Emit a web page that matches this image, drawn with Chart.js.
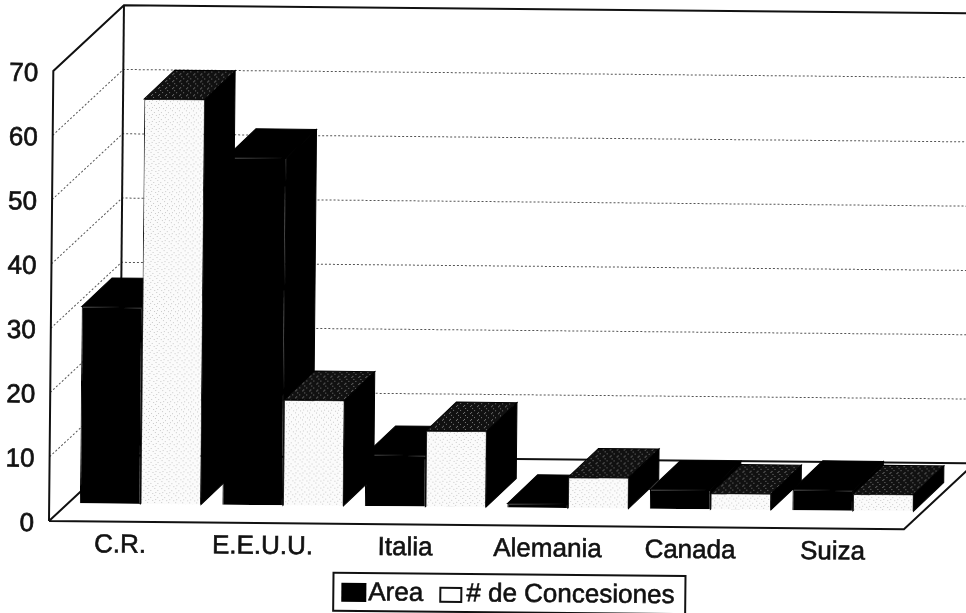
<!DOCTYPE html>
<html>
<head>
<meta charset="utf-8">
<title>Area y Concesiones</title>
<style>
  html, body { margin: 0; padding: 0; background: #fff; overflow: hidden; }
  #wrap { width: 966px; height: 613px; }
</style>
<script src="https://cdn.jsdelivr.net/npm/chart.js@4"></script>
</head>
<body>
<div id="wrap"><canvas id="chart" width="966" height="613"></canvas></div>
<script>
  const categories = ['C.R.', 'E.E.U.U.', 'Italia', 'Alemania', 'Canada', 'Suiza'];
  const areaValues = [30.6, 54, 8, 0.6, 3, 3.2];
  const concesionesValues = [63, 16.4, 11.8, 4.8, 2.5, 2.6];
  const seriesNames = ['Area', '# de Concesiones'];

  const FONT = '"Liberation Sans", Arial, sans-serif';
  const TILT = 0.0096; // the scan sits slightly crooked
  const PIVOT = { x: 49, y: 521 };
  const WALL = { dx: 70, dy: -66.5 };
  const BAR_SHIFT = { dx: 20, dy: -18 };
  const BAR_DEPTH = { dx: 30, dy: -29 };

  const stipple = (base, dot, spots) => {
    const tile = document.createElement('canvas');
    tile.width = 7;
    tile.height = 7;
    const c = tile.getContext('2d');
    c.fillStyle = base;
    c.fillRect(0, 0, 7, 7);
    c.fillStyle = dot;
    spots.forEach(([x, y]) => c.fillRect(x, y, 1, 1));
    return c.createPattern(tile, 'repeat');
  };

  const frontFill = stipple('#fbfbfb', '#c9c9c9', [[1, 1], [4, 3], [2, 5], [6, 6]]);
  const topFill = stipple('#111', '#777', [[1, 0], [3, 2], [5, 4], [2, 6]]);

  const poly = (ctx, pts, fill) => {
    ctx.beginPath();
    pts.forEach(([x, y], i) => (i ? ctx.lineTo(x, y) : ctx.moveTo(x, y)));
    ctx.closePath();
    ctx.fillStyle = fill;
    ctx.fill();
    // stroke closes the hairline seams between neighbouring faces
    ctx.lineWidth = 1;
    ctx.strokeStyle = '#000';
    ctx.stroke();
  };

  const line = (ctx, pts, width, dash) => {
    ctx.beginPath();
    pts.forEach(([x, y], i) => (i ? ctx.lineTo(x, y) : ctx.moveTo(x, y)));
    ctx.lineWidth = width;
    ctx.setLineDash(dash || []);
    ctx.strokeStyle = dash ? '#555' : '#111';
    ctx.stroke();
    ctx.setLineDash([]);
  };

  const drawWalls = (chart) => {
    const { ctx, chartArea: a, scales } = chart;
    const wx = a.left + WALL.dx;
    const endX = a.right + WALL.dx;

    scales.y.ticks.forEach((tick) => {
      if (tick.value === 0 || tick.value === scales.y.max) return;
      const y = scales.y.getPixelForValue(tick.value);
      line(ctx, [[a.left, y], [wx, y + WALL.dy], [endX, y + WALL.dy]], 1, [2, 2]);
    });

    line(ctx, [[a.left, a.bottom], [a.left, a.top], [wx, a.top + WALL.dy], [endX, a.top + WALL.dy]], 2);
    line(ctx, [[wx, a.top + WALL.dy], [wx, a.bottom + WALL.dy]], 2);
    line(ctx, [[a.left, a.bottom], [a.right, a.bottom], [endX, a.bottom + WALL.dy], [wx, a.bottom + WALL.dy], [a.left, a.bottom]], 2);
  };

  const drawDepth = (chart) => {
    const { ctx } = chart;
    const { dx, dy } = BAR_DEPTH;
    chart.data.datasets.forEach((_, d) => {
      chart.getDatasetMeta(d).data.forEach((bar) => {
        const { x, y, base, width } = bar.getProps(['x', 'y', 'base', 'width'], true);
        const l = x - width / 2;
        const r = x + width / 2;
        poly(ctx, [[r, y], [r + dx, y + dy], [r + dx, base + dy], [r, base]], '#000');
        poly(ctx, [[l, y], [l + dx, y + dy], [r + dx, y + dy], [r, y]], d === 0 ? '#000' : topFill);
      });
    });
  };

  const drawLegend = (chart) => {
    const { ctx } = chart;
    ctx.save();
    ctx.lineWidth = 2;
    ctx.strokeStyle = '#111';
    ctx.fillStyle = '#fff';
    ctx.beginPath();
    ctx.rect(334, 570, 352, 38);
    ctx.fill();
    ctx.stroke();

    ctx.fillStyle = '#000';
    ctx.fillRect(342, 580, 25, 19);
    ctx.lineWidth = 2;
    ctx.fillStyle = '#fff';
    ctx.fillRect(441, 584, 21, 14);
    ctx.strokeRect(441, 584, 21, 14);

    ctx.fillStyle = '#111';
    ctx.font = '26px ' + FONT;
    ctx.textBaseline = 'middle';
    ctx.textAlign = 'left';
    ctx.lineWidth = 0.6;
    seriesNames.forEach((name, i) => {
      const x = i === 0 ? 369 : 467;
      ctx.fillText(name, x, 590);
      ctx.strokeText(name, x, 590);
    });
    ctx.restore();
  };

  const scanLayout = {
    id: 'scanLayout',
    beforeDraw(chart) {
      const { ctx } = chart;
      ctx.save();
      ctx.translate(PIVOT.x, PIVOT.y);
      ctx.rotate(TILT);
      ctx.translate(-PIVOT.x, -PIVOT.y);
    },
    beforeDatasetsDraw(chart) {
      const { ctx } = chart;
      drawWalls(chart);
      ctx.save();
      ctx.translate(BAR_SHIFT.dx, BAR_SHIFT.dy);
      drawDepth(chart);
    },
    afterDatasetsDraw(chart) {
      chart.ctx.restore();
      drawLegend(chart);
    },
    afterDraw(chart) {
      chart.ctx.restore();
    }
  };

  new Chart(document.getElementById('chart'), {
    type: 'bar',
    data: {
      labels: categories,
      datasets: [
        {
          label: seriesNames[0],
          data: areaValues,
          backgroundColor: '#000',
          borderColor: '#000',
          borderWidth: 1,
          clip: false
        },
        {
          label: seriesNames[1],
          data: concesionesValues,
          backgroundColor: frontFill,
          borderColor: '#222',
          borderWidth: 1,
          clip: false
        }
      ]
    },
    options: {
      responsive: false,
      animation: false,
      events: [],
      layout: { padding: { top: 71, right: 62, bottom: 0, left: 0 } },
      datasets: { bar: { categoryPercentage: 0.85, barPercentage: 1 } },
      plugins: {
        legend: { display: false },
        tooltip: { enabled: false }
      },
      scales: {
        x: {
          afterFit(scale) { scale.height = 92; },
          grid: { display: false, drawTicks: false },
          border: { display: false },
          ticks: {
            color: '#111',
            font: { family: FONT, size: 26 },
            textStrokeColor: '#111',
            textStrokeWidth: 0.6,
            padding: 8,
            maxRotation: 0,
            autoSkip: false
          }
        },
        y: {
          min: 0,
          max: 70,
          afterFit(scale) { scale.width = 49; },
          grid: { display: false, drawTicks: false },
          border: { display: false },
          ticks: {
            stepSize: 10,
            color: '#111',
            font: { family: FONT, size: 26 },
            textStrokeColor: '#111',
            textStrokeWidth: 0.7,
            labelOffset: 3,
            padding: 15
          }
        }
      }
    },
    plugins: [scanLayout]
  });
</script>
</body>
</html>
